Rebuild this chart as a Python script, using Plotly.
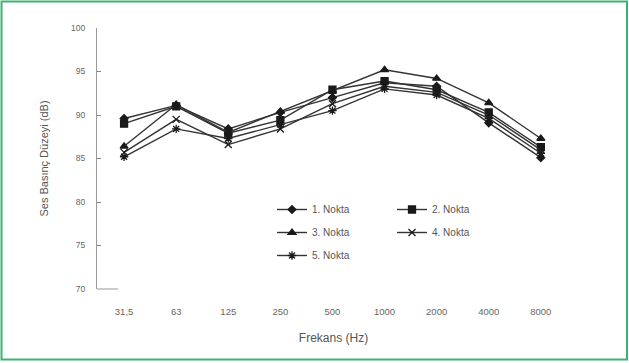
import plotly.graph_objects as go

categories = ["31,5", "63", "125", "250", "500", "1000", "2000", "4000", "8000"]
nokta1 = [89.6, 91.1, 88.4, 90.3, 92.0, 93.7, 93.3, 89.1, 85.1]
nokta2 = [89.0, 91.0, 87.9, 89.4, 92.9, 93.9, 92.9, 90.3, 86.3]
nokta3 = [86.4, 91.2, 88.0, 90.4, 92.8, 95.2, 94.2, 91.4, 87.3]
nokta4 = [85.7, 89.5, 86.6, 88.4, 91.3, 93.3, 92.6, 90.0, 86.0]
nokta5 = [85.2, 88.4, 87.3, 88.9, 90.5, 93.0, 92.3, 89.6, 85.6]
y_ticks = [70, 75, 80, 85, 90, 95, 100]

series = [
    ("1. Nokta", nokta1, "diamond", 6, "legend"),
    ("2. Nokta", nokta2, "square", 7, "legend2"),
    ("3. Nokta", nokta3, "triangle-up", 7, "legend"),
    ("4. Nokta", nokta4, "x-thin-open", 7, "legend2"),
    ("5. Nokta", nokta5, "asterisk-open", 7, "legend"),
]

fig = go.Figure()
for i, (name, vals, sym, size, leg) in enumerate(series):
    fig.add_trace(go.Scatter(
        x=list(range(len(categories))), y=vals, name=name, mode="lines+markers",
        line=dict(color="#333333", width=1.4),
        marker=dict(symbol=sym, size=size, color="#1a1a1a",
                    line=dict(color="#1a1a1a", width=1.3)),
        legend=leg, legendgroup=name,
    ))

W, H = 629, 363
L, R, T, B = 97, 59, 28, 74
pw, ph = W - L - R, H - T - B

def px(x):
    return (x - L) / pw

def py(y):
    return (H - B - y) / ph

fig.update_layout(
    width=W, height=H,
    margin=dict(l=L, r=R, t=T, b=B),
    paper_bgcolor="white", plot_bgcolor="white",
    font=dict(family="Liberation Sans, Arial, sans-serif", color="#555", size=9),
    xaxis=dict(
        range=[-0.52, 8.56], tickmode="array",
        tickvals=list(range(len(categories))), ticktext=categories,
        showgrid=False, zeroline=False, showline=False, ticks="",
        tickfont=dict(size=9.5, color="#666"), ticklabelstandoff=15,
        title=dict(text="Frekans (Hz)", font=dict(size=12, color="#555"), standoff=18),
    ),
    yaxis=dict(
        range=[70, 100], tickvals=y_ticks, ticktext=[str(v) for v in y_ticks],
        showgrid=False, zeroline=False, showline=True, linecolor="#999", linewidth=1,
        ticks="inside", ticklen=4, tickcolor="#888",
        tickfont=dict(size=8.5, color="#666"), ticklabelstandoff=9,
        title=dict(text="Ses Basınç Düzeyi (dB)", font=dict(size=11, color="#555"), standoff=20),
    ),
    legend=dict(x=px(272), y=py(195), xanchor="left", yanchor="top",
                bgcolor="rgba(0,0,0,0)", font=dict(size=10, color="#555"),
                tracegroupgap=4, itemwidth=30),
    legend2=dict(x=px(392), y=py(195), xanchor="left", yanchor="top",
                 bgcolor="rgba(0,0,0,0)", font=dict(size=10, color="#555"),
                 tracegroupgap=4, itemwidth=30),
    showlegend=True,
    shapes=[
        dict(type="rect", xref="paper", yref="paper",
             x0=px(1.5), x1=px(627), y0=py(359.5), y1=py(1.5),
             line=dict(color="#3cb371", width=2), fillcolor="rgba(0,0,0,0)", layer="below"),
        dict(type="line", xref="paper", yref="paper",
             x0=0, x1=px(118), y0=0, y1=0, line=dict(color="#999", width=1)),
    ],
)

fig.write_html("out.html", config={"displayModeBar": False},
               post_script="document.body.style.margin='0';")
